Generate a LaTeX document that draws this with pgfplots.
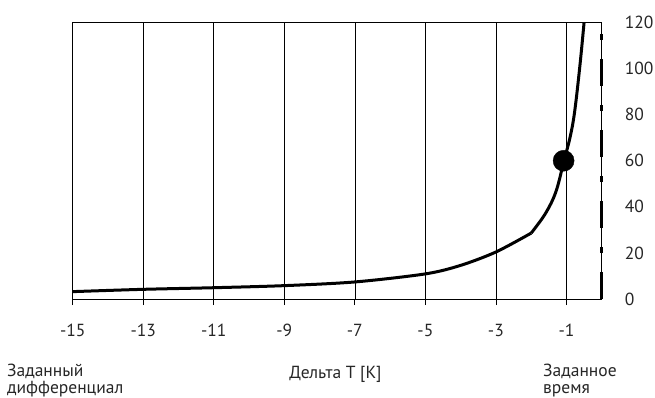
\documentclass[border=0pt]{standalone}
\usepackage{fontspec}
\setmainfont{PT Sans}
\usepackage{pgfplots}
\pgfplotsset{compat=1.18}
\begin{document}
\begin{tikzpicture}[x=1pt,y=1pt]
\useasboundingbox (0,0) rectangle (655,397);
\begin{axis}[
  at={(72.7pt,98pt)}, anchor=south west,
  scale only axis, width=529pt, height=276.5pt,
  xmin=-15, xmax=0, ymin=0, ymax=120,
  xtick={-15,-13,...,-1}, ytick={0,20,...,120},
  xtick pos=bottom, tick align=outside, major tick length=6pt,
  ytick style={draw=none},
  yticklabel pos=right,
  xmajorgrids, grid style={black, line width=0.6pt},
  axis line style={black, line width=0.8pt},
  xtick style={black, line width=0.8pt},
  /pgf/number format/assume math mode=true,
  tick label style={font=\fontsize{17.5}{20}\selectfont, text=black!85},
  xticklabel style={anchor=north, inner sep=0pt, yshift=-19pt},
  yticklabel style={anchor=west, inner sep=0pt, xshift=17pt},
  clip=false,
]
\draw[black, line width=3.2pt, dash pattern=on 27pt off 19pt on 6pt off 19pt]
  (axis cs:0,0) -- (axis cs:0,120);
\addplot[black, line width=3pt, smooth, tension=0.5] coordinates {
  (-15,3.2) (-13,4.2) (-11,4.9) (-9,5.8) (-7,7.4) (-5,10.9) (-4,14.6) (-3,20.4) (-2,28.6)
};
\addplot[black, line width=3pt, smooth, tension=0.6] coordinates {
  (-2,28.6) (-1.6,37) (-1.3,46.5) (-1.07,60) (-0.9,70) (-0.77,81) (-0.62,101) (-0.5,120)
};
\addplot[only marks, mark=*, mark size=10.5pt, black] coordinates {(-1.08,60)};
\end{axis}
\begin{scope}[every node/.style={font=\fontsize{17.5}{20}\selectfont, text=black!85, inner sep=0pt}]
\node[anchor=base west] at (7,21) {Заданный};
\node[anchor=base west] at (7,4) {дифференциал};
\node[anchor=base] at (335.5,19) {Дельта T [K]};
\node[anchor=base west] at (543,21) {Заданное};
\node[anchor=base west] at (543,4) {время};
\end{scope}
\end{tikzpicture}
\end{document}
